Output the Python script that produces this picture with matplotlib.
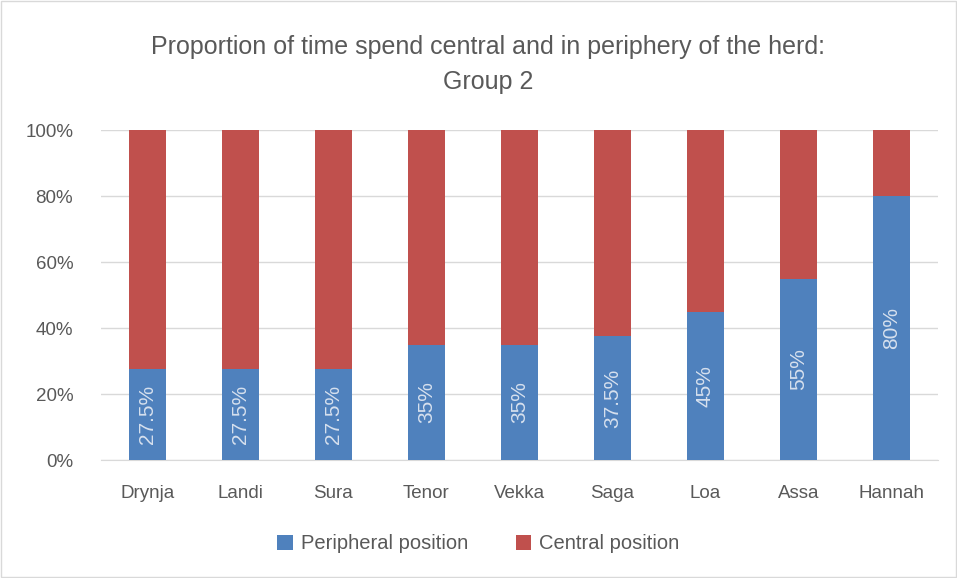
import numpy as np
import matplotlib.pyplot as plt
from matplotlib.patches import Rectangle

# Data
names = ["Drynja", "Landi", "Sura", "Tenor", "Vekka", "Saga", "Loa", "Assa", "Hannah"]
peripheral = [27.5, 27.5, 27.5, 35, 35, 37.5, 45, 55, 80]
central = [100 - p for p in peripheral]
labels = ["27.5%", "27.5%", "27.5%", "35%", "35%", "37.5%", "45%", "55%", "80%"]

BLUE = "#4F81BD"
RED = "#C0504D"
GRAY = "#595959"
GRID = "#D9D9D9"

plt.rcParams['font.family'] = ['Liberation Sans', 'DejaVu Sans']

fig = plt.figure(figsize=(9.57, 5.78), dpi=100)
fig.patches.append(Rectangle((0.0015, 0.002), 0.997, 0.996, transform=fig.transFigure,
                             fill=False, edgecolor=GRID, linewidth=1))
ax = fig.add_axes([0.1055, 0.204, 0.8746, 0.571])

x = np.arange(len(names))
w = 0.4
b1 = ax.bar(x, peripheral, w, color=BLUE, label="Peripheral position", zorder=3)
b2 = ax.bar(x, central, w, bottom=peripheral, color=RED, label="Central position", zorder=3)

for xi, p, lab in zip(x, peripheral, labels):
    ax.text(xi, p / 2, lab, rotation=90, ha="center", va="center",
            fontsize=15, color="#D6E0EE", zorder=4)

ax.set_xlim(-0.5, len(names) - 0.5)
ax.set_ylim(0, 100)
ax.set_yticks(np.arange(0, 101, 20))
ax.set_yticklabels(["{}%".format(v) for v in range(0, 101, 20)])
ax.set_xticks(x)
ax.set_xticklabels(names)
ax.tick_params(axis="both", length=0, labelsize=13.5, labelcolor=GRAY)
ax.tick_params(axis="x", pad=18)
ax.tick_params(axis="y", pad=20)
ax.yaxis.grid(True, color=GRID, linewidth=1, zorder=0)
for s in ["top", "right", "left"]:
    ax.spines[s].set_visible(False)
ax.spines["bottom"].set_color(GRID)

fig.text(0.51, 0.888, "Proportion of time spend central and in periphery of the herd:\nGroup 2",
         ha="center", va="center", fontsize=18, color=GRAY, linespacing=1.6)

fig.legend(handles=[b1, b2], loc="center", bbox_to_anchor=(0.5, 0.059), ncol=2,
           frameon=False, fontsize=14.5, labelcolor=GRAY, handlelength=0.75,
           handleheight=0.75, handletextpad=0.4, columnspacing=2.4)

fig.savefig("out.png", dpi=100)
